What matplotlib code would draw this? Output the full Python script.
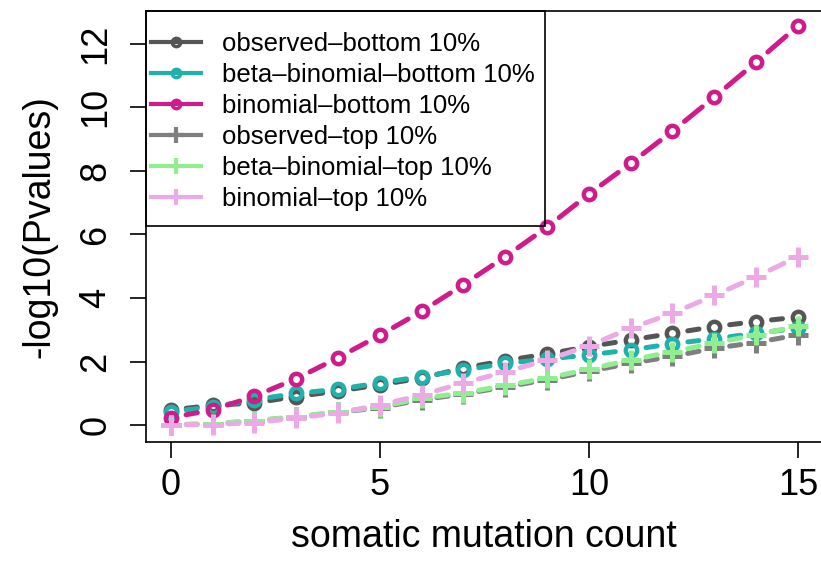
import numpy as np
import matplotlib
matplotlib.use('Agg')
import matplotlib.pyplot as plt
from matplotlib.lines import Line2D
from matplotlib.patches import Rectangle

plt.rcParams['font.family'] = ['Liberation Sans', 'DejaVu Sans']

# data
counts = list(range(16))
obs_bottom = [0.48, 0.62, 0.70, 0.90, 1.07, 1.27, 1.48, 1.80, 2.03, 2.24, 2.47, 2.68, 2.89, 3.10, 3.26, 3.40]
bb_bottom = [0.42, 0.58, 0.80, 1.00, 1.13, 1.33, 1.53, 1.73, 1.94, 2.08, 2.21, 2.37, 2.56, 2.72, 2.89, 3.05]
bin_bottom = [0.24, 0.48, 0.91, 1.46, 2.12, 2.83, 3.58, 4.42, 5.30, 6.23, 7.27, 8.24, 9.25, 10.32, 11.42, 12.56]
obs_top = [0.01, 0.04, 0.13, 0.26, 0.40, 0.55, 0.80, 0.98, 1.20, 1.43, 1.69, 1.95, 2.16, 2.42, 2.60, 2.84]
bb_top = [0.01, 0.05, 0.14, 0.27, 0.42, 0.57, 0.85, 1.01, 1.25, 1.48, 1.76, 2.05, 2.31, 2.58, 2.84, 3.12]
bin_top = [0.01, 0.02, 0.08, 0.22, 0.39, 0.63, 0.95, 1.33, 1.67, 2.05, 2.50, 3.05, 3.52, 4.08, 4.67, 5.30]

labels = ['observed\u2013bottom 10%', 'beta\u2013binomial\u2013bottom 10%', 'binomial\u2013bottom 10%',
          'observed\u2013top 10%', 'beta\u2013binomial\u2013top 10%', 'binomial\u2013top 10%']
colors = ['#555555', '#20B2AA', '#D01C8B', '#7F7F7F', '#90EE90', '#EBAAE6']
markers = ['o', 'o', 'o', '+', '+', '+']
series = [obs_bottom, bb_bottom, bin_bottom, obs_top, bb_top, bin_top]

fig = plt.figure(figsize=(8.21, 5.62), dpi=100)
ax = fig.add_axes([0.1775, 0.2141, 0.8249, 0.7669])
ax.set_xlim(-0.6, 15.6)
ax.set_ylim(-0.52, 13.04)


def draw_gapped(ax, x, y, color, gap_px=15.5, lw=3.6):
    # R type="b": each segment drawn only between the points, with a gap round them
    pts = ax.transData.transform(np.column_stack([x, y]))
    inv = ax.transData.inverted()
    for p0, p1 in zip(pts[:-1], pts[1:]):
        d = p1 - p0
        L = np.hypot(*d)
        if L <= 2 * gap_px:
            continue
        u = d / L
        a = inv.transform(p0 + u * gap_px)
        b = inv.transform(p1 - u * gap_px)
        ax.plot([a[0], b[0]], [a[1], b[1]], color=color, lw=lw, solid_capstyle='round')


handles = []
for vals, col, mk, lab in zip(series, colors, markers, labels):
    draw_gapped(ax, counts, vals, col)
    if mk == 'o':
        ax.plot(counts, vals, ls='none', marker='o', ms=8.2, mew=3.2, mfc='none', mec=col)
        handles.append(Line2D([], [], color=col, lw=3, marker='o', ms=6, mew=2.5, mfc='none', mec=col))
    else:
        ax.plot(counts, vals, ls='none', marker='+', ms=15, mew=3.6, mec=col)
        handles.append(Line2D([], [], color=col, lw=3, marker='+', ms=11, mew=3, mec=col))

ax.set_xticks([0, 5, 10, 15])
ax.set_yticks([0, 2, 4, 6, 8, 10, 12])
ax.tick_params(labelsize=26, length=11.3, width=1.2, pad=8)
ax.tick_params(axis='y', pad=12)
for t in ax.get_yticklabels():
    t.set_rotation(90)
    t.set_va('center')
for s in ax.spines.values():
    s.set_linewidth(1.2)

ax.set_xlabel('somatic mutation count', fontsize=27, labelpad=11)
ax.set_ylabel('-log10(Pvalues)', fontsize=27, labelpad=15)

ax.add_patch(Rectangle((0, 0.5005), 0.5896, 0.4995, transform=ax.transAxes,
                       fill=False, ec='black', lw=1.2, zorder=5, clip_on=False))
ax.legend(handles, labels, loc='upper left', bbox_to_anchor=(0.0078, 0.950),
          frameon=False, fontsize=18.5, borderpad=0, borderaxespad=0,
          handlelength=1.95, handletextpad=0.82, labelspacing=0.27)

fig.savefig('out.png', dpi=100)
